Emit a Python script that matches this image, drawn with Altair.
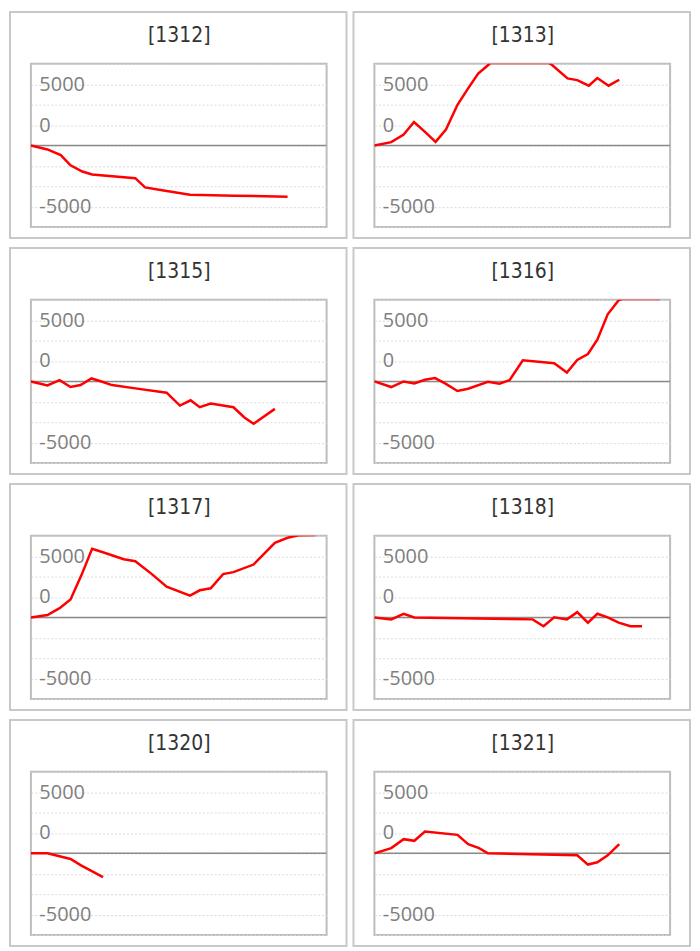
import altair as alt
import pandas as pd

PANELS = ["1312", "1313", "1315", "1316", "1317", "1318", "1320", "1321"]

X_1312 = [0, 5.6, 10.1, 13.4, 17.4, 20.7, 35.3, 38.6, 45.4, 53.8, 68.9, 86.8]
Y_1312 = [0, -485, -1173, -2427, -3196, -3560, -4005, -5137, -5542, -6027, -6148, -6270]

X_1313 = [0, 5.7, 9.9, 13.4, 17.1, 20.7, 24.2, 28.1, 31.7, 35.1, 38.4, 39.2, 59.0, 60.2,
          65.3, 68.6, 72.5, 75.4, 79.2, 82.8]
Y_1313 = [0, 405, 1335, 2872, 1659, 445, 1942, 4976, 6998, 8818, 9829, 10100, 10100, 9830,
          8211, 8009, 7322, 8252, 7322, 8050]

X_1315 = [0, 5.6, 9.7, 13.4, 16.8, 20.5, 24.1, 27.4, 35.3, 45.9, 50.4, 54.0, 57.1, 60.8,
          68.5, 72.2, 75.3, 82.5]
Y_1315 = [0, -486, 162, -689, -446, 365, -41, -446, -851, -1377, -2957, -2309, -3159, -2714,
          -3159, -4415, -5184, -3362]

X_1316 = [0, 5.7, 9.9, 13.5, 17.1, 20.5, 23.9, 28.1, 31.7, 38.4, 42.3, 45.7, 50.2, 60.8,
          65.1, 68.6, 72.2, 75.4, 78.9, 82.6, 83.8, 96.6]
Y_1316 = [0, -689, 0, -243, 203, 405, -243, -1175, -891, -41, -284, 162, 2592, 2228,
          1094, 2633, 3362, 5103, 8222, 9950, 10100, 10100]

X_1317 = [0, 5.6, 9.7, 13.4, 17.1, 20.7, 24.1, 31.4, 35.3, 40.9, 45.9, 53.8, 57.1, 60.8,
          65.0, 68.5, 75.3, 82.5, 86.8, 90.5, 96.3]
Y_1317 = [0, 283, 1133, 2184, 5177, 8414, 8009, 7119, 6876, 5299, 3762, 2670, 3317, 3560,
          5299, 5542, 6472, 9142, 9749, 10050, 10100]

X_1318 = [0, 5.7, 9.9, 13.5, 53.5, 57.2, 60.8, 65.1, 68.6, 72.2, 75.4, 78.9, 82.6, 86.6, 90.5]
Y_1318 = [0, -243, 445, 0, -243, -1092, 0, -243, 647, -647, 445, 0, -647, -1092, -1092]

X_1320 = [0, 5.6, 13.4, 17.1, 24.4]
Y_1320 = [0, 0, -688, -1497, -2912]

X_1321 = [0, 5.7, 9.9, 13.5, 17.1, 28.1, 31.7, 35.4, 38.4, 68.6, 72.2, 75.4, 78.9, 82.8]
Y_1321 = [0, 647, 1739, 1537, 2670, 2265, 1133, 647, 0, -243, -1375, -1092, -243, 1133]

SERIES = {
    "1312": (X_1312, Y_1312), "1313": (X_1313, Y_1313), "1315": (X_1315, Y_1315),
    "1316": (X_1316, Y_1316), "1317": (X_1317, Y_1317), "1318": (X_1318, Y_1318),
    "1320": (X_1320, Y_1320), "1321": (X_1321, Y_1321),
}

Y_TICKS = [-10000, -7500, -5000, -2500, 0, 2500, 5000, 7500, 10000]
LABEL_AT = [7500, 2500, -7500]
LABEL_TEXT = ["5000", "0", "-5000"]

rows = []
for pid in PANELS:
    xs, ys = SERIES[pid]
    for i, (xv, yv) in enumerate(zip(xs, ys)):
        rows.append({"panel": pid, "i": i, "x": xv, "y": yv})
df = pd.DataFrame(rows)

label_expr = "".join(f"datum.value == {v} ? '{t}' : " for v, t in zip(LABEL_AT, LABEL_TEXT)) + "''"

yscale = alt.Scale(domain=[-10000, 10000], nice=False, zero=False)
xscale = alt.Scale(domain=[0, 100], nice=False, zero=False)

yaxis = alt.Axis(
    values=Y_TICKS, labelExpr=label_expr, title=None, domain=False, ticks=False,
    grid=True, gridColor="#d9d9d9", gridDash=[2, 2], gridWidth=1,
    labelAlign="left", labelBaseline="middle", labelPadding=-8,
    labelColor="#7f7f7f", labelFont="Open Sans", labelFontSize=20, labelFlush=False,
    labelOverlap=False,
)

W, H = 297, 164


def panel(pid):
    d = df[df.panel == pid]
    one = pd.DataFrame({"k": [0], "label": [f"[{pid}]"]})
    frame = alt.Chart(one).mark_rect(
        fill="transparent", stroke="#c8c8c8", strokeWidth=2
    ).encode(x=alt.value(-21), x2=alt.value(W + 20), y=alt.value(-52), y2=alt.value(H + 11))
    title = alt.Chart(one).mark_text(
        font="'DejaVu Sans Condensed', 'DejaVu Sans'", fontSize=21, color="#333333",
        align="center", baseline="alphabetic",
    ).encode(text="label:N", x=alt.value(W / 2 + 0.5), y=alt.value(-22))
    zero = alt.Chart(one).mark_rule(color="#8a8a8a", strokeWidth=1.5).encode(
        y=alt.Y("k:Q", scale=yscale, axis=yaxis)
    )
    line = alt.Chart(d).mark_line(color="#ff0000", strokeWidth=2.5, clip=True).encode(
        x=alt.X("x:Q", scale=xscale, axis=None),
        y=alt.Y("y:Q", scale=yscale, axis=yaxis),
        order="i:Q",
    )
    return alt.layer(frame, title, zero, line).properties(width=W, height=H)


grid_rows = [
    alt.hconcat(panel(PANELS[r * 2]), panel(PANELS[r * 2 + 1]), spacing=3)
    for r in range(4)
]
chart = alt.vconcat(*grid_rows, spacing=6).properties(
    padding=0, background="white"
).configure_view(stroke="#bdbdbd", strokeWidth=2)

chart.save("out.html", embed_options={"renderer": "svg", "actions": False})
